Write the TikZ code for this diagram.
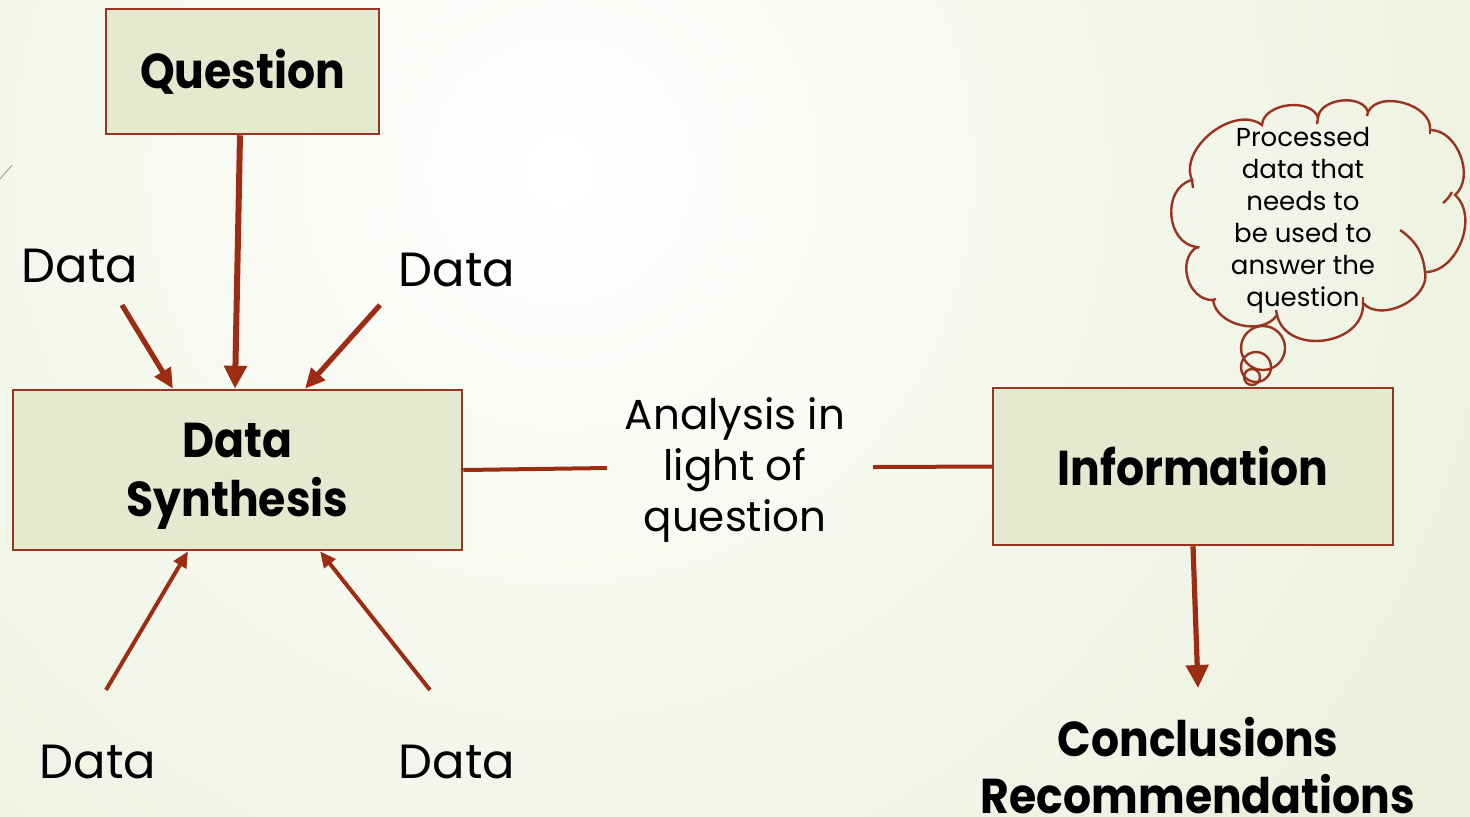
\documentclass[tikz,border=0pt]{standalone}
\usepackage{fontspec}
\setmainfont{Poppins}[BoldFeatures={FakeStretch=0.9}]
\usetikzlibrary{arrows.meta,calc}
\definecolor{bgG}{RGB}{222,231,198}
\definecolor{boxF}{RGB}{228,234,208}
\definecolor{brd}{RGB}{152,52,32}
\definecolor{arr}{RGB}{156,44,18}
\begin{document}
\begin{tikzpicture}[x=0.5pt,y=-0.5pt,
  box/.style={draw=brd,fill=boxF,line width=1.25pt,inner sep=0pt,align=center,font=\bfseries\fontsize{24.5}{29.5}\selectfont},
  lbl/.style={inner sep=0pt,align=center,font=\fontsize{24}{30}\selectfont},
  bigarr/.style={draw=arr,line width=3pt,-{Triangle[length=11.5pt,width=11pt]}},
  midarr/.style={draw=arr,line width=2.6pt,-{Triangle[length=10pt,width=9pt]}},
  thinarr/.style={draw=arr,line width=2pt,-{Triangle[length=8pt,width=7pt]}},
  link/.style={draw=arr,line width=2pt},
  cloudline/.style={draw=brd,line width=1.2pt}]
\useasboundingbox (0,0) rectangle (1470,816);
\begin{scope}
\clip (0,0) rectangle (1470,816);
\shade[inner color=white,outer color=bgG] (560,170) circle (1750);
\end{scope}
\draw[gray!70,line width=0.5pt] (0,179) -- (12,165);
% boxes
\node[box,minimum width=136.5pt,minimum height=62.5pt] (q) at (242.5,71.5) {Question};
\node[box,minimum width=224.5pt,minimum height=80pt,text depth=0pt] (syn) at (237.5,470) {Data\\Synthesis};
\node[box,minimum width=200pt,minimum height=78.5pt] (info) at (1193,466.5) {Information};
% labels
\node[lbl] (d1) at (80,266) {Data};
\node[lbl] (d2) at (457,270) {Data};
\node[lbl] (d3) at (98,762) {Data};
\node[lbl] (d4) at (457,762) {Data};
\node[lbl,font=\fontsize{21}{25.5}\selectfont] (ana) at (735,470) {Analysis in\\light of\\question};
\node[inner sep=0pt,align=center,font=\bfseries\fontsize{24.5}{28.5}\selectfont] (concl) at (1198,766) {Conclusions\\Recommendations};
% arrow end coordinates
\coordinate (a1s) at (122,305);
\coordinate (a2s) at (380,305);
\coordinate (a3s) at (106,690);
\coordinate (a4s) at (430,690);
\coordinate (l1e) at (607,468);
\coordinate (l2s) at (873,467);
\coordinate (cs) at (1198,688);
\draw[bigarr] (q.south -| 240,0) -- (syn.north -| 235,0);
\draw[midarr] (a1s) -- (syn.north -| 173,0);
\draw[midarr] (a2s) -- (syn.north -| 305,0);
\draw[thinarr] (a3s) -- (syn.south -| 188,0);
\draw[thinarr] (a4s) -- (syn.south -| 320,0);
\draw[link] (syn.east) -- (l1e);
\draw[link] (l2s) -- (info.west);
\draw[bigarr,line width=2.6pt] (info.south -| 1193,0) -- (cs);
% cloud
\draw[cloudline] (1192,180) to[bend left=75] (1262,125) to[bend left=80] (1318,118)
  to[bend left=80] (1368,112) to[bend left=80] (1430,130) to[bend left=70] (1455,195)
  to[bend left=70] (1425,272) to[bend left=75] (1363,303) to[bend left=85,looseness=1.25] (1277,315)
  to[bend left=70] (1213,300) to[bend left=75,looseness=1.15] (1197,247) to[bend left=80,looseness=1.2] cycle;
% inner stubs of the cloud
\draw[cloudline] (1400,230) to[bend left=25] (1425,272);
\draw[cloudline] (1452,192) to[bend left=10] (1443,203);
\draw[cloudline] (1318,118) -- (1317,124);
\draw[cloudline] (1368,112) -- (1367,116);
\draw[cloudline] (1430,130) -- (1430,134);
\draw[cloudline] (1363,303) -- (1363,297);
\draw[cloudline] (1277,315) -- (1276,310);
\draw[cloudline] (1213,300) -- (1216,299);
\draw[cloudline] (1197,247) -- (1199,248);
\draw[cloudline] (1192,180) -- (1193,188);
\draw[cloudline] (1263,348) circle (22);
\draw[cloudline] (1256,367) circle (15);
\draw[cloudline] (1252,377) circle (8);
\node[inner sep=0pt,align=center,font=\fontsize{13}{16}\selectfont] (ct) at (1303,220) {Processed\\data that\\needs to\\be used to\\answer the\\question};
\end{tikzpicture}
\end{document}
